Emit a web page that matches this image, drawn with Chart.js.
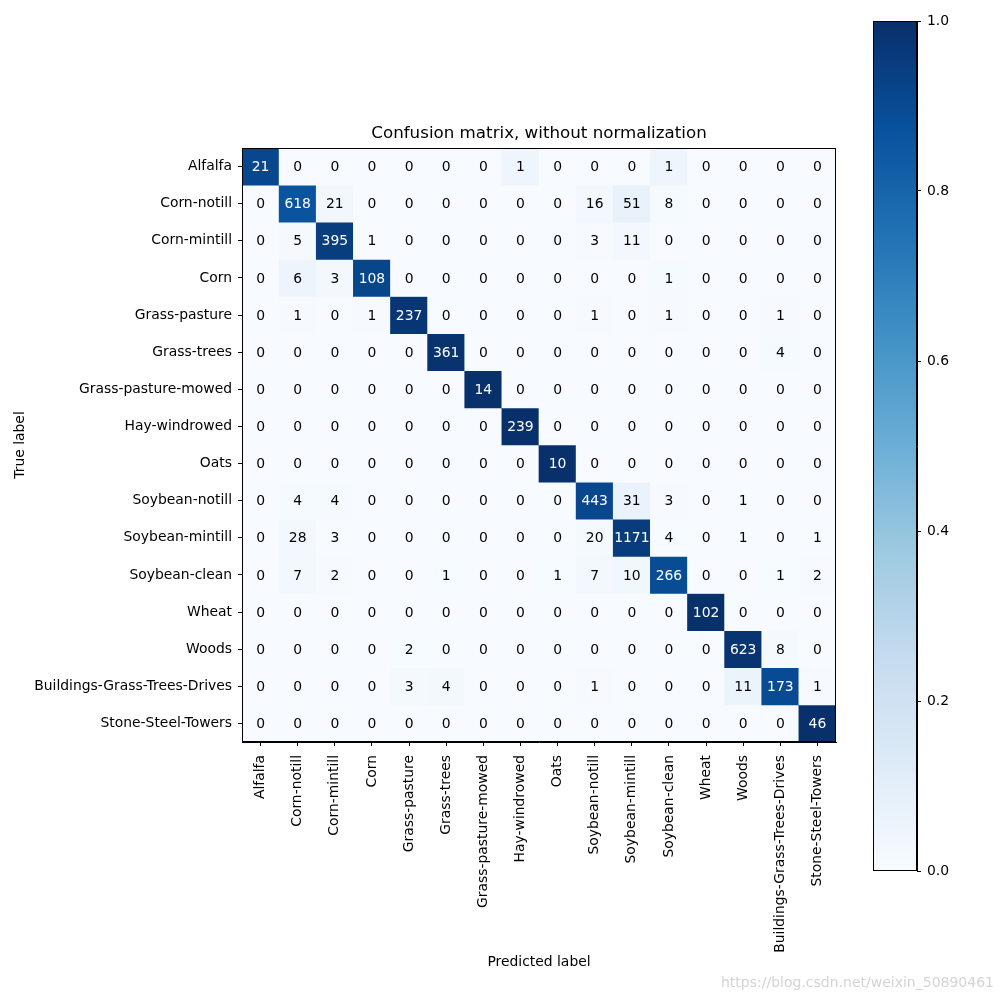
<!DOCTYPE html>
<html>
<head>
<meta charset="utf-8">
<script src="https://cdn.jsdelivr.net/npm/chart.js@4/dist/chart.umd.min.js"></script>
<style>
  body { margin: 0; background: #fff; }
  #wrap { position: relative; width: 1000px; height: 1000px; }
  #matriz { position: absolute; left: 0; top: 0; }
  #barraCor { position: absolute; left: 840px; top: 0; }
</style>
</head>
<body>
<div id="wrap">
  <canvas id="matriz" width="1000" height="1000"></canvas>
  <canvas id="barraCor" width="160" height="1000"></canvas>
</div>
<script>
// classes (true label = linhas, predicted label = colunas)
const classes = ['Alfalfa', 'Corn-notill', 'Corn-mintill', 'Corn', 'Grass-pasture', 'Grass-trees',
    'Grass-pasture-mowed', 'Hay-windrowed', 'Oats', 'Soybean-notill', 'Soybean-mintill',
    'Soybean-clean', 'Wheat', 'Woods', 'Buildings-Grass-Trees-Drives', 'Stone-Steel-Towers'];

// contagens por linha
const counts = [
    [21, 0, 0, 0, 0, 0, 0, 1, 0, 0, 0, 1, 0, 0, 0, 0],
    [0, 618, 21, 0, 0, 0, 0, 0, 0, 16, 51, 8, 0, 0, 0, 0],
    [0, 5, 395, 1, 0, 0, 0, 0, 0, 3, 11, 0, 0, 0, 0, 0],
    [0, 6, 3, 108, 0, 0, 0, 0, 0, 0, 0, 1, 0, 0, 0, 0],
    [0, 1, 0, 1, 237, 0, 0, 0, 0, 1, 0, 1, 0, 0, 1, 0],
    [0, 0, 0, 0, 0, 361, 0, 0, 0, 0, 0, 0, 0, 0, 4, 0],
    [0, 0, 0, 0, 0, 0, 14, 0, 0, 0, 0, 0, 0, 0, 0, 0],
    [0, 0, 0, 0, 0, 0, 0, 239, 0, 0, 0, 0, 0, 0, 0, 0],
    [0, 0, 0, 0, 0, 0, 0, 0, 10, 0, 0, 0, 0, 0, 0, 0],
    [0, 4, 4, 0, 0, 0, 0, 0, 0, 443, 31, 3, 0, 1, 0, 0],
    [0, 28, 3, 0, 0, 0, 0, 0, 0, 20, 1171, 4, 0, 1, 0, 1],
    [0, 7, 2, 0, 0, 1, 0, 0, 1, 7, 10, 266, 0, 0, 1, 2],
    [0, 0, 0, 0, 0, 0, 0, 0, 0, 0, 0, 0, 102, 0, 0, 0],
    [0, 0, 0, 0, 2, 0, 0, 0, 0, 0, 0, 0, 0, 623, 8, 0],
    [0, 0, 0, 0, 3, 4, 0, 0, 0, 1, 0, 0, 0, 11, 173, 1],
    [0, 0, 0, 0, 0, 0, 0, 0, 0, 0, 0, 0, 0, 0, 0, 46]
];

// ticks da barra de cores
const colorbarTicks = [0, 0.2, 0.4, 0.6, 0.8, 1.0];

// mapa de cores Blues (colorbrewer, 9 paradas)
const blues = ['#f7fbff', '#deebf7', '#c6dbef', '#9ecae1', '#6baed6', '#4292c6', '#2171b5', '#08519c', '#08306b'];

const fonte = '"DejaVu Sans", sans-serif';

function hexToRgb(h) {
    return [parseInt(h.slice(1, 3), 16), parseInt(h.slice(3, 5), 16), parseInt(h.slice(5, 7), 16)];
}

function corBlues(t) {
    t = Math.max(0, Math.min(1, t));
    const pos = t * (blues.length - 1);
    const k = Math.min(Math.floor(pos), blues.length - 2);
    const f = pos - k;
    const a = hexToRgb(blues[k]);
    const b = hexToRgb(blues[k + 1]);
    const c = a.map((v, n) => Math.round(v + (b[n] - v) * f));
    return `rgb(${c[0]},${c[1]},${c[2]})`;
}

// normaliza por linha (cores), o texto mostra as contagens
const normalizado = counts.map(linha => {
    const soma = linha.reduce((s, v) => s + v, 0);
    return linha.map(v => soma ? v / soma : 0);
});

// cada linha vira um dataset de barras flutuantes [i-0.5, i+0.5]
const datasets = counts.map((linha, i) => ({
    label: classes[i],
    data: linha.map(() => [i - 0.5, i + 0.5]),
    backgroundColor: normalizado[i].map(v => corBlues(v)),
    borderWidth: 0
}));

// textos das células, título, moldura e marca d'água
const pluginTextos = {
    id: 'textos',
    afterDatasetsDraw(chart) {
        const ctx = chart.ctx;
        const xs = chart.scales.x;
        const ys = chart.scales.y;
        ctx.save();
        ctx.font = '13.9px ' + fonte;
        ctx.textAlign = 'center';
        ctx.textBaseline = 'middle';
        counts.forEach((linha, i) => {
            linha.forEach((v, j) => {
                ctx.fillStyle = normalizado[i][j] > 0.5 ? '#ffffff' : '#000000';
                ctx.fillText(String(v), xs.getPixelForValue(j), ys.getPixelForValue(i) + 1);
            });
        });
        ctx.restore();
    },
    afterDraw(chart) {
        const ctx = chart.ctx;
        const a = chart.chartArea;
        ctx.save();
        ctx.strokeStyle = '#000';
        ctx.lineWidth = 1;
        ctx.strokeRect(a.left + 0.5, a.top + 0.5, a.right - a.left - 1, a.bottom - a.top - 1);
        ctx.fillStyle = '#000';
        ctx.font = '16.7px ' + fonte;
        ctx.textAlign = 'center';
        ctx.textBaseline = 'middle';
        ctx.fillText('Confusion matrix, without normalization', (a.left + a.right) / 2, 134);
        ctx.fillStyle = '#d4d4d4';
        ctx.font = '14px ' + fonte;
        ctx.textAlign = 'right';
        ctx.fillText('https://blog.csdn.net/weixin_50890461', 994, 983);
        ctx.restore();
    }
};

new Chart(document.getElementById('matriz'), {
    type: 'bar',
    data: { labels: classes, datasets: datasets },
    options: {
        responsive: false,
        animation: false,
        layout: { padding: { left: 0, right: 164, top: 148, bottom: 0 } },
        datasets: { bar: { grouped: false, barPercentage: 1, categoryPercentage: 1 } },
        plugins: { legend: { display: false }, tooltip: { enabled: false }, title: { display: false } },
        scales: {
            x: {
                type: 'category',
                grid: { offset: false, drawOnChartArea: false, drawTicks: true, tickLength: 4, tickColor: '#000' },
                border: { display: true, color: '#000' },
                ticks: { autoSkip: false, maxRotation: 90, minRotation: 90, padding: 9, color: '#000', font: { family: fonte, size: 13.9 } },
                title: { display: true, text: 'Predicted label', color: '#000', font: { family: fonte, size: 13.9 }, padding: { bottom: 29, top: 0 } },
                afterFit(scale) { scale.height = 258; }
            },
            y: {
                type: 'linear',
                min: -0.5,
                max: 15.5,
                reverse: true,
                afterBuildTicks(scale) { scale.ticks = classes.map((c, i) => ({ value: i })); },
                grid: { drawOnChartArea: false, drawTicks: true, tickLength: 4, tickColor: '#000' },
                border: { display: true, color: '#000' },
                ticks: { autoSkip: false, padding: 6, color: '#000', font: { family: fonte, size: 13.9 }, callback: v => classes[v] },
                title: { display: true, text: 'True label', color: '#000', font: { family: fonte, size: 13.9 }, padding: { top: 12, bottom: 0 } },
                afterFit(scale) { scale.width = 242; }
            }
        }
    },
    plugins: [pluginTextos]
});

// barra de cores
const pluginMoldura = {
    id: 'moldura',
    afterDraw(chart) {
        const a = chart.chartArea;
        const ctx = chart.ctx;
        ctx.save();
        ctx.strokeStyle = '#000';
        ctx.lineWidth = 1;
        ctx.strokeRect(a.left + 0.5, a.top + 0.5, a.right - a.left - 1, a.bottom - a.top - 1);
        ctx.restore();
    }
};

new Chart(document.getElementById('barraCor'), {
    type: 'bar',
    data: {
        labels: [''],
        datasets: [{
            data: [[colorbarTicks[0], colorbarTicks[colorbarTicks.length - 1]]],
            borderWidth: 0,
            backgroundColor(c) {
                const area = c.chart.chartArea;
                if (!area) return blues[4];
                const g = c.chart.ctx.createLinearGradient(0, area.bottom, 0, area.top);
                blues.forEach((cor, k) => g.addColorStop(k / (blues.length - 1), cor));
                return g;
            }
        }]
    },
    options: {
        responsive: false,
        animation: false,
        layout: { padding: { left: 33, right: 0, top: 21, bottom: 129 } },
        datasets: { bar: { barPercentage: 1, categoryPercentage: 1 } },
        plugins: { legend: { display: false }, tooltip: { enabled: false } },
        scales: {
            x: { display: false },
            y: {
                position: 'right',
                min: 0,
                max: 1,
                afterBuildTicks(scale) { scale.ticks = colorbarTicks.map(v => ({ value: v })); },
                grid: { drawOnChartArea: false, drawTicks: true, tickLength: 4, tickColor: '#000' },
                border: { display: true, color: '#000' },
                ticks: { padding: 6, color: '#000', font: { family: fonte, size: 13.9 }, callback: v => v.toFixed(1) },
                afterFit(scale) { scale.width = 83; }
            }
        }
    },
    plugins: [pluginMoldura]
});
</script>
</body>
</html>
